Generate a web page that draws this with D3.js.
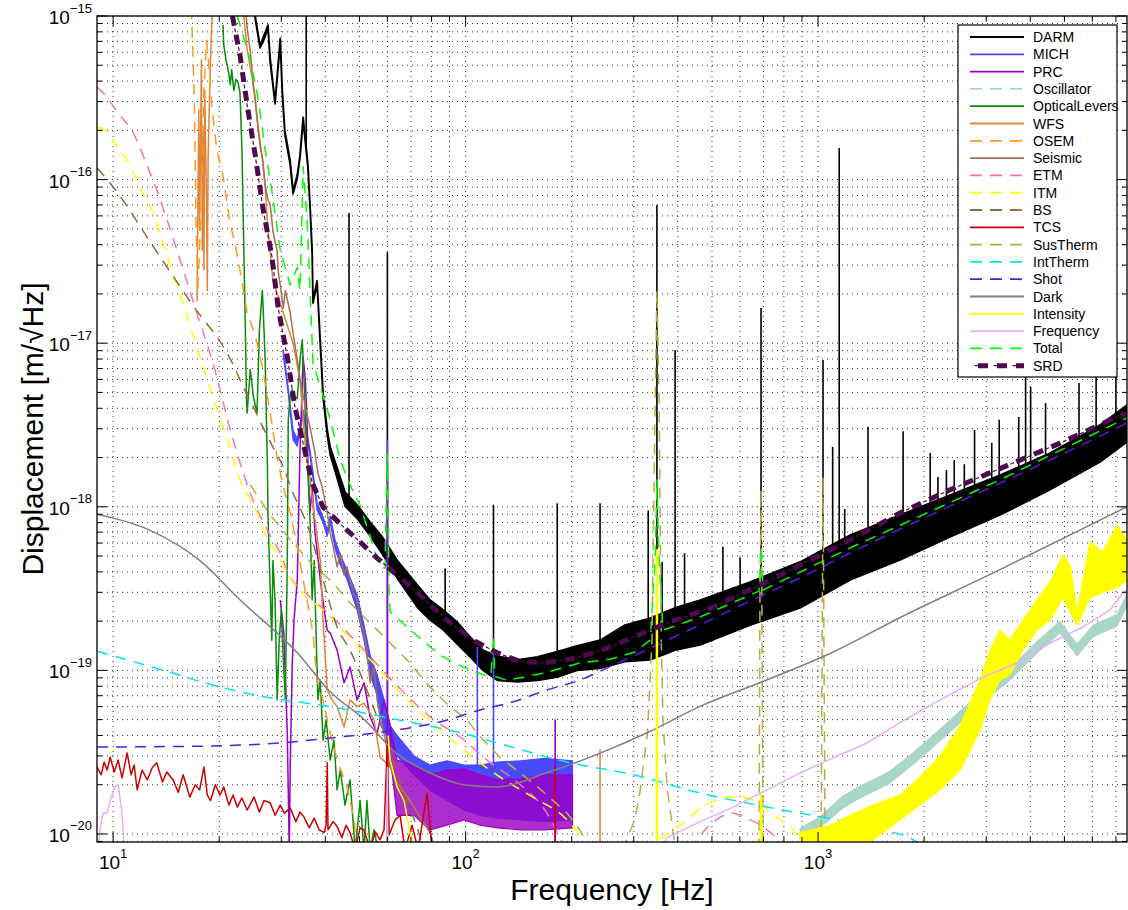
<!DOCTYPE html>
<html><head><meta charset="utf-8">
<script src="https://cdn.jsdelivr.net/npm/d3@7"></script>
<style>
body{margin:0;background:#fff}
svg{display:block}
text{font-family:"Liberation Sans",Arial,Helvetica,sans-serif;fill:#000}
</style></head>
<body><svg id="chart" width="1128" height="910"></svg>
<script>
// ---------------- DATA ----------------
const xDomain = [9, 7525];
const yDomain = [8.93e-21, 1e-15];
const xTickValues = [10, 100, 1000];
const xTickLabels = ["1", "2", "3"];
const yTickValues = [1e-20, 1e-19, 1e-18, 1e-17, 1e-16, 1e-15];
const yTickLabels = ["\u221220", "\u221219", "\u221218", "\u221217", "\u221216", "\u221215"];

const seriesNames = ["DARM","MICH","PRC","Oscillator","OpticalLevers","WFS","OSEM","Seismic","ETM","ITM","BS","TCS","SusTherm","IntTherm","Shot","Dark","Intensity","Frequency","Total","SRD"];

// DARM noisy band: [freq, low, high]
const darmBand = [[24.5,2.0e-15,2.1e-15],[25.3,9.6e-16,1.0e-15],[26.1,6.4e-16,6.6e-16],[26.6,6.9e-16,7.3e-16],[27.5,8.4e-16,8.8e-16],[27.9,5.2e-16,5.5e-16],[28.8,2.9e-16,3.0e-16],[29.8,6.9e-16,7.3e-16],[30.2,3.3e-16,3.5e-16],[30.7,1.9e-16,2.0e-16],[31.8,1.23e-16,1.3e-16],[32.4,8.2e-17,8.5e-17],[33.3,1.02e-16,1.07e-16],[33.9,1.36e-16,1.41e-16],[34.6,2.3e-16,2.4e-16],[35.7,1.18e-16,1.23e-16],[36.2,6.7e-17,7.0e-17],[36.7,3.5e-17,3.7e-17],[36.9,1.76e-17,1.84e-17],[37.9,2.3e-17,2.4e-17],[39.4,4.7e-18,5.0e-18],[40.5,2.75e-18,2.95e-18],[41.3,2.07e-18,2.32e-18],[43.2,1.5e-18,1.73e-18],[45.5,1.01e-18,1.23e-18],[49.2,8.5e-19,1.03e-18],[53.6,6.63e-19,8.07e-19],[58.3,5.07e-19,6.45e-19],[63.9,3.67e-19,4.73e-19],[72.9,2.44e-19,3.33e-19],[79.3,2.03e-19,2.69e-19],[86.4,1.77e-19,2.34e-19],[94.6,1.45e-19,1.98e-19],[103,1.21e-19,1.60e-19],[112,1.0e-19,1.33e-19],[123,8.7e-20,1.22e-19],[140,8.5e-20,1.16e-19],[160,8.7e-20,1.21e-19],[182,9.1e-20,1.30e-19],[207,1.0e-19,1.41e-19],[241,1.03e-19,1.53e-19],[283,1.13e-19,1.89e-19],[334,1.16e-19,2.09e-19],[393,1.33e-19,2.41e-19],[463,1.43e-19,2.69e-19],[641,1.89e-19,3.47e-19],[889,2.41e-19,4.6e-19],[1233,3.57e-19,6.72e-19],[1709,4.73e-19,8.91e-19],[2369,6.54e-19,1.18e-18],[3284,8.91e-19,1.56e-18],[4552,1.27e-18,2.13e-18],[6310,1.88e-18,3.16e-18],[7525,2.49e-18,4.19e-18]];
// DARM lines: [freq, peak]
const darmSpikes = [[35.3,2.0e-15],[46.7,6.25e-17],[60,3.6e-17],[87.5,4.2e-19],[120,1.03e-18],[182,1.05e-18],[240.7,1.05e-18],[329.7,9.5e-19],[349,7.0e-17],[361,4.6e-19],[393,9.1e-18],[418,5.2e-19],[537,5.7e-19],[601,4.9e-19],[689,1.64e-17],[1033,7.9e-18],[1100,2.32e-18],[1148,1.56e-16],[1190,9.7e-19],[1386,3.08e-18],[1743,2.9e-18],[2080,2.13e-18],[2188,1.52e-18],[2313,1.68e-18],[2434,1.93e-18],[2600,1.82e-18],[2780,2.95e-18],[3110,2.46e-18],[3265,3.4e-18],[3710,3.54e-18],[3880,6.9e-18],[4010,5.4e-18],[4420,4.3e-18],[5500,5.71e-18],[6150,7.9e-18],[7000,9.75e-18]];

const michBand = [[30.4,8.35e-18,9.1e-18],[31.4,4.9e-18,5.3e-18],[32.4,2.56e-18,2.95e-18],[33.3,2.35e-18,2.6e-18],[33.9,2.95e-18,3.2e-18],[34.6,3.6e-18,3.9e-18],[36.2,2.04e-18,2.22e-18],[37.9,9.6e-19,1.06e-18],[39.4,8.0e-19,8.7e-19],[40.5,6.6e-19,7.2e-19],[41.3,8.0e-19,8.8e-19],[42.6,5.6e-19,6.3e-19],[44.1,4.4e-19,5.1e-19],[46.1,3.6e-19,4.1e-19],[49.2,2.34e-19,2.9e-19],[51.5,1.53e-19,1.89e-19],[53.6,9.4e-20,1.24e-19],[56.1,7.1e-20,9.4e-20],[58.7,4.3e-20,6.6e-20],[61.1,3.5e-20,4.6e-20],[63.9,3.0e-20,4.0e-20],[71.4,2.3e-20,3.0e-20],[79.2,1.86e-20,2.64e-20],[88.6,1.6e-20,2.8e-20],[99,1.4e-20,2.64e-20],[110,1.3e-20,2.64e-20],[123,1.25e-20,2.75e-20],[143,1.22e-20,2.8e-20],[168,1.19e-20,2.9e-20],[201,1.22e-20,2.8e-20]];
const michSpikes = [[60,3.0e-20,2.56e-18],[108,2.0e-20,1.39e-19],[120,2.0e-20,1.33e-19]];

const prcLine = [[29.8,2.69e-19],[30.5,1.69e-19],[31.2,4.1e-20],[31.6,8e-21],[31.8,2.57e-20],[32.2,1.05e-19],[32.6,2.03e-19],[33.3,3.57e-19],[33.9,2.22e-18],[34.6,8.2e-18],[35.1,6.0e-18],[35.5,3.4e-18],[35.7,1.75e-18],[36.2,9.2e-19],[36.7,1.32e-18],[37.4,6.9e-19],[38.1,4.9e-19],[38.7,3.57e-19],[39.7,2.34e-19],[40.5,1.76e-19],[41.3,1.69e-19],[43.2,1.33e-19],[45.2,8.4e-20],[47.0,1.05e-19],[49.2,6.6e-20],[51.5,8.4e-20],[53.6,5.2e-20],[56.1,4.1e-20],[58.7,6.6e-20],[61.1,4.6e-20]];
const prcBand = [[61.1,3.0e-20,4.6e-20],[63.9,1.3e-20,2.83e-20],[71.4,1.3e-20,2.64e-20],[79.2,1.06e-20,2.3e-20],[88.6,1.13e-20,2.46e-20],[99,1.22e-20,2.5e-20],[110,1.13e-20,2.3e-20],[123,1.09e-20,2.14e-20],[143,1.06e-20,2.17e-20],[168,1.06e-20,2.3e-20],[201,1.09e-20,2.3e-20]];
const prcSpikes = [[60,8e-21,1.68e-18],[179.5,8e-21,5.0e-20]];

const oscillatorBand = [[889,9.0e-21,1.08e-20],[1013,1.09e-20,1.28e-20],[1177,1.44e-20,1.71e-20],[1316,1.66e-20,1.97e-20],[1470,1.86e-20,2.2e-20],[1601,2.05e-20,2.43e-20],[1824,2.57e-20,3.04e-20],[2079,3.26e-20,3.86e-20],[2368,4.2e-20,4.97e-20],[2700,5.4e-20,6.4e-20],[3076,6.96e-20,8.25e-20],[3437,8.4e-20,9.9e-20],[4180,1.27e-19,1.5e-19],[4857,1.69e-19,2.0e-19],[5430,1.22e-19,1.45e-19],[6025,1.6e-19,1.89e-19],[7050,1.86e-19,2.2e-19],[7520,2.47e-19,2.93e-19]];

const opticalLevers = [[20.5,8.8e-16],[20.6,6.65e-16],[20.9,5.4e-16],[21.2,4.7e-16],[21.5,3.8e-16],[21.7,4.7e-16],[22.0,3.5e-16],[22.3,4.1e-16],[22.6,3.95e-16],[22.9,3.4e-16],[23.2,1.52e-16],[23.4,5.7e-17],[23.7,1.39e-17],[23.9,4.5e-18],[24.0,3.74e-18],[24.5,6.9e-18],[25.0,4.7e-18],[25.6,3.74e-18],[26.0,1.2e-17],[26.5,2.1e-17],[26.6,1.8e-17],[27.0,7.9e-18],[27.4,1.75e-18],[27.5,9.2e-19],[27.9,3.1e-19],[28.2,1.53e-19],[28.4,4.7e-19],[28.8,2.69e-19],[29.2,6.6e-20],[29.6,1.53e-19],[30.0,2.34e-19],[30.4,1.16e-19],[30.8,6.6e-20],[31.2,4.7e-19],[31.4,3.4e-18],[31.8,4.8e-18],[32.2,5.2e-18],[32.8,4.7e-18],[33.3,4.6e-18],[33.9,7.9e-18],[34.4,1.05e-17],[34.8,6.0e-18],[35.3,2.56e-18],[35.7,1.68e-18],[36.2,8.3e-19],[36.7,2.69e-19],[37.2,4.7e-19],[37.7,1.53e-19],[38.1,6.6e-20],[38.7,8.7e-20],[39.4,3.75e-20],[40.2,5.0e-20],[41.3,2.83e-20],[42.3,3.75e-20],[43.2,1.86e-20],[44.1,2.46e-20],[45.5,1.5e-20],[47.0,2.14e-20],[48.6,8e-21],[50.2,1.6e-20],[51.5,8e-21],[52.5,1.6e-20],[53.6,8e-21],[55.0,1.06e-20],[56.4,8e-21]];

const wfs = [[17.3,1.8e-17],[17.5,2.66e-16],[17.6,4.9e-17],[17.8,5.4e-16],[17.9,3.7e-17],[18.0,2.0e-16],[18.1,2.8e-17],[18.2,3.5e-16],[18.4,7.5e-17],[18.5,2.1e-17],[18.6,1.32e-16],[18.7,2.3e-16],[18.9,5.4e-16],[19.1,1.09e-15],[20.1,2.5e-15],[22.2,2.5e-15],[23.4,1.09e-15],[24.0,6.2e-16],[24.8,4.2e-16],[25.3,3.0e-16],[25.8,2.07e-16],[26.5,1.35e-16],[27.0,8.9e-17],[27.5,4.9e-17],[28.4,2.43e-17],[30.4,1.53e-17],[32.4,1.0e-17],[33.9,6.0e-18],[35.1,2.35e-18],[36.2,1.46e-18],[37.4,8.3e-19],[38.7,4.7e-19],[39.4,2.03e-19],[40.5,7.6e-20],[41.8,6.6e-20],[43.2,6.0e-20],[45.2,4.5e-20],[47.0,6.6e-20],[49.2,6.0e-20],[51.5,6.3e-20],[55.0,5.0e-20],[57.2,2.95e-20],[61.1,2.57e-20],[63.9,2.05e-20],[69.5,1.6e-20],[74.3,1.27e-20],[79.3,1.02e-20],[81.9,8e-21]];
const wfsSpikes = [[240.7,8e-21,3.3e-20]];

const osem = [[16.5,2.5e-15],[16.7,1.0e-15],[17.0,3.06e-16],[17.2,4.9e-17],[17.4,2.1e-17],[17.8,7.5e-17],[18.1,3.5e-16],[18.4,7.1e-16],[18.6,5.8e-16],[18.9,3.5e-16],[19.1,2.66e-16],[19.7,1.5e-16],[20.4,1.12e-16],[20.8,8.5e-17],[21.5,5.3e-17],[22.2,4.0e-17],[22.9,2.8e-17],[24.0,1.53e-17],[25.3,1.12e-17],[26.6,6.9e-18],[27.9,3.74e-18],[29.2,2.0e-18],[30.4,1.32e-18],[31.8,9.2e-19],[33.3,5.7e-19],[34.6,3.57e-19],[35.5,2.69e-19],[36.9,1.69e-19],[37.9,8.7e-20],[39.4,6.6e-20],[41.3,4.1e-20],[43.2,2.83e-20],[46.1,1.94e-20],[48.3,1.22e-20],[49.2,8e-21]];

const seismic = [[23.4,1.66e-15],[24.0,8.45e-16],[24.5,6.1e-16],[25.0,3.8e-16],[25.3,3.15e-16],[25.6,2.38e-16],[26.1,1.63e-16],[26.6,1.3e-16],[27.0,9.3e-17],[27.4,7.7e-17],[27.9,7.0e-17],[28.4,4.85e-17],[29.2,3.66e-17],[29.4,2.76e-17],[29.8,2.27e-17],[30.4,1.64e-17],[30.8,2.1e-17],[31.8,1.53e-17],[32.4,1.15e-17],[33.3,7.9e-18],[33.9,6.0e-18],[35.1,4.07e-18],[36.2,3.07e-18],[37.4,2.13e-18],[38.1,1.61e-18],[39.2,1.32e-18],[40.5,9.2e-19],[41.3,6.9e-19],[42.1,5.7e-19],[43.2,4.3e-19],[44.1,5.2e-19],[45.2,3.83e-19],[46.1,4.3e-19],[47.0,3.57e-19],[48.3,2.9e-19],[49.2,2.69e-19],[50.2,2.03e-19],[51.5,1.69e-19],[52.5,1.33e-19],[53.6,8.4e-20],[55.0,1.05e-19],[56.1,6.6e-20],[57.2,5.2e-20],[58.7,4.1e-20],[60.0,3.26e-20],[61.1,2.57e-20],[63.9,2.05e-20],[67.3,1.73e-20],[71.4,1.46e-20],[75.2,1.22e-20],[79.3,1.02e-20],[81.9,8e-21]];

const etm = [[9.0,3.68e-16],[9.55,3.24e-16],[10.33,2.55e-16],[11.4,1.93e-16],[12.6,1.16e-16],[13.2,9.0e-17],[15.0,4.0e-17],[17.1,1.64e-17],[19.5,6.7e-18],[21.5,2.95e-18],[23.4,1.61e-18],[24.5,1.21e-18],[27.4,7.2e-19],[29.8,5.2e-19],[31.4,3.94e-19],[36.2,2.81e-19],[41.3,2.18e-19],[51.5,1.33e-19],[66.9,7.3e-20],[79.3,5.2e-20],[99,3.75e-20],[115,2.83e-20],[143,2.0e-20],[168,1.4e-20],[192,8e-21],null,[433,8e-21],[478,1.06e-20],[574,1.34e-20],[641,1.22e-20],[717,1.06e-20],[765,9.2e-21],[790,8e-21]];
const itm = [[9.0,2.1e-16],[9.49,2.0e-16],[10.26,1.6e-16],[11.2,1.21e-16],[12.0,8.6e-17],[12.5,7.5e-17],[14.5,3.0e-17],[16.5,1.29e-17],[18.9,5.2e-18],[21.9,2.0e-18],[22.9,1.46e-18],[24.5,1.1e-18],[25.6,9.2e-19],[27.4,6.3e-19],[29.2,5.2e-19],[31.2,3.94e-19],[41.3,2.12e-19],[51.5,1.28e-19],[66.9,6.9e-20],[83.0,4.5e-20],[110,2.72e-20],[125,2.23e-20],[155,1.68e-20],[194,1.22e-20],[225,8e-21],null,[323,8e-21],[414,1.17e-20],[494,1.55e-20],[563,1.68e-20],[629,1.66e-20],[698,1.46e-20],[780,1.22e-20],[850,1.06e-20],[906,8e-21]];
const bs = [[9.0,1.18e-16],[10.26,8.4e-17],[12.7,4.2e-17],[16.5,1.81e-17],[21.9,7.4e-18],[23.4,5.4e-18],[25.0,4.07e-18],[26.6,3.07e-18],[28.4,2.32e-18],[30.4,1.75e-18],[32.4,1.21e-18],[34.4,9.2e-19],[36.2,6.9e-19],[38.1,4.73e-19],[40.5,2.9e-19],[43.2,1.84e-19],[47.0,1.33e-19],[51.5,8.4e-20],[56.1,5.2e-20],[60.0,3.75e-20],[63.9,2.36e-20],[68.2,1.6e-20],[72.8,1.1e-20],[76.2,8e-21]];

const tcs = [[9.0,2.57e-20],[9.25,2.3e-20],[9.43,2.75e-20],[9.61,2.46e-20],[9.81,2.95e-20],[10.07,2.39e-20],[10.33,2.83e-20],[10.6,2.2e-20],[10.96,3.13e-20],[11.25,2.3e-20],[11.47,2.64e-20],[11.7,1.86e-20],[12.08,2.46e-20],[12.5,2.14e-20],[12.9,2.53e-20],[13.3,2.72e-20],[13.8,2.08e-20],[14.2,2.39e-20],[14.8,2.14e-20],[15.3,1.8e-20],[15.8,2.3e-20],[16.5,1.68e-20],[17.1,2.0e-20],[17.6,1.86e-20],[18.1,2.57e-20],[18.5,1.73e-20],[18.9,1.6e-20],[19.5,2.0e-20],[20.1,1.73e-20],[20.6,1.94e-20],[21.3,1.5e-20],[21.9,1.73e-20],[22.5,1.46e-20],[23.2,1.66e-20],[24.0,1.4e-20],[25.1,1.68e-20],[26.0,1.36e-20],[26.8,1.6e-20],[27.9,1.55e-20],[28.8,1.3e-20],[29.8,1.5e-20],[30.6,1.34e-20],[31.8,1.44e-20],[33.0,1.19e-20],[33.9,1.36e-20],[34.8,1.27e-20],[36.0,1.09e-20],[37.2,1.25e-20],[38.4,1.06e-20],[39.7,1.02e-20],[40.2,1.13e-20],[40.5,2.72e-20],[40.7,1.06e-20],[42.1,1.19e-20],[43.2,1.11e-20],[44.6,9.5e-21],[45.8,1.13e-20],[47.0,1.02e-20],[48.6,8e-21],[50.2,1.09e-20],[51.5,1.06e-20],[53.6,8e-21],[55.4,1.03e-20],[57.2,9.2e-21],[58.7,1.06e-20],[60.0,3.75e-20],[60.7,9.9e-21],[63.1,1.22e-20],[65.2,1.3e-20],[67.3,8e-21],[70.5,1.13e-20],[73.3,8e-21],[77.8,1.78e-20],[80.3,8e-21]];
const tcsSpikes = [[179.5,8e-21,2.6e-20]];

const susTherm = [[24.5,1.36e-18],[27.9,8.9e-19],[31.8,6.3e-19],[36.2,4.6e-19],[42.1,3.42e-19],[47.0,2.58e-19],[53.6,1.95e-19],[61.1,1.47e-19],[69.5,1.11e-19],[79.3,7.9e-20],[90.3,6.0e-20],[101,5.0e-20],[108,4.1e-20],[125,2.95e-20],[143,2.36e-20],[160,1.94e-20],[177,1.6e-20],[194,1.34e-20],[211,1.06e-20],[225,8e-21],null,[278,8e-21],[302,1.22e-20],[312,1.78e-20],[328,4.1e-20],[338,1.53e-19],[345,4.5e-18],[349,2.1e-17],[354,4.5e-18],[359,1.53e-19],[363,5.0e-20],[373,1.94e-20],[388,1.02e-20],[395,8e-21],null,[680,8e-21],[684,2.69e-19],[689,1.27e-18],[693,2.69e-19],[698,8e-21],null,[1020,8e-21],[1033,1.52e-18],[1047,8e-21]];

const intTherm = [[9.0,1.31e-19],[13.9,1.0e-19],[19.3,8.1e-20],[26.8,6.9e-20],[41.3,6.0e-20],[63.9,5.0e-20],[99,4.1e-20],[123,3.6e-20],[194,2.75e-20],[299,2.3e-20],[463,1.78e-20],[717,1.46e-20],[1103,1.23e-20],[1529,1.06e-20],[1909,8.9e-21],[2000,8e-21]];

const shot = [[9.0,3.40e-20],[17.6,3.44e-20],[29.7,3.6e-20],[41.3,3.86e-20],[63.8,4.32e-20],[84.6,4.84e-20],[110,5.73e-20],[136,6.41e-20],[170,7.59e-20],[211,8.73e-20],[256,1.05e-19],[354,1.45e-19],[461,1.89e-19],[640,2.65e-19],[887,3.67e-19],[1233,5.22e-19],[2367,1.01e-18],[4545,1.93e-18],[7525,3.25e-18]];

const dark = [[9,9.0e-19],[12.7,7.2e-19],[17.6,4.7e-19],[22.9,2.7e-19],[33.3,1.28e-19],[41.3,7.4e-20],[51.6,5.0e-20],[63.8,3.1e-20],[79.3,2.36e-20],[98.7,2.0e-20],[122,1.94e-20],[173,2.4e-20],[239,3.1e-20],[331,4.2e-20],[461,6.0e-20],[712,8.7e-20],[1100,1.29e-19],[1700,2.09e-19],[3260,4.1e-19],[7525,1.0e-18]];

const intensityBand = [[889,8e-21,1.02e-20],[1081,8e-21,1.13e-20],[1232,8e-21,1.3e-20],[1432,9.2e-21,1.5e-20],[1709,1.22e-20,1.73e-20],[1909,1.46e-20,2.14e-20],[2218,1.86e-20,3.0e-20],[2530,2.46e-20,4.6e-20],[2880,4.3e-20,8.7e-20],[3076,6.6e-20,1.33e-19],[3280,8.7e-20,1.76e-19],[3500,9.4e-20,1.53e-19],[3814,1.33e-19,2.03e-19],[4180,1.76e-19,2.69e-19],[4550,2.03e-19,3.47e-19],[4953,2.77e-19,5.07e-19],[5190,2.28e-19,4.4e-19],[5430,1.89e-19,2.28e-19],[5910,2.77e-19,6.1e-19],[6430,3.0e-19,5.3e-19],[7050,3.2e-19,7.7e-19],[7520,3.57e-19,6.3e-19]];
const intensityLine = [[60.3,4.0e-20],[61.1,2.83e-20],[63.9,1.94e-20],[66.9,1.6e-20],[69.5,1.02e-20],[71.4,8e-21]];
const intensitySpikes = [[349,8e-21,5.5e-19],[689,8e-21,1.8e-20]];

const frequency = [[9.07,8e-21],[9.19,1.09e-20],[9.37,1.34e-20],[9.61,1.34e-20],[9.81,1.6e-20],[10.13,1.94e-20],[10.33,2.0e-20],[10.6,1.34e-20],[10.75,8e-21],null,[356,8e-21],[373,9.5e-21],[463,1.19e-20],[574,1.46e-20],[717,1.86e-20],[889,2.36e-20],[1103,2.92e-20],[1377,3.6e-20],[1709,4.8e-20],[2218,6.6e-20],[2937,9.1e-20],[3668,1.11e-19],[4550,1.47e-19],[5644,1.84e-19],[6730,2.34e-19],[7330,2.97e-19],[7525,3.1e-19]];
const frequencySpikes = [[60,8e-21,2.57e-20]];

const total = [[22.5,1.0e-15],[24.5,5.4e-16],[25.8,3.1e-16],[27.0,1.52e-16],[28.2,8.6e-17],[29.8,3.7e-17],[31.8,2.27e-17],[33.3,2.9e-17],[33.9,2.1e-17],[34.6,1.2e-16],[35.5,5.7e-17],[36.9,7.6e-18],[38.7,5.4e-18],[41.3,3.4e-18],[44.1,1.93e-18],[47.0,1.36e-18],[50.2,1.02e-18],[54.6,5.8e-19],[57.2,4.3e-19],[59.1,4.2e-19],[59.9,2.1e-18],[60.7,2.9e-19],[61.1,2.28e-19],[70.9,1.71e-19],[84.6,1.24e-19],[98.3,1.05e-19],[112,9.4e-20],[118,9.2e-20],[120,1.6e-19],[121,9.2e-20],[131,8.7e-20],[166,9.6e-20],[211,1.11e-19],[257,1.17e-19],[301,1.29e-19],[334,1.53e-19],[345,4.7e-19],[349,1.46e-18],[354,4.7e-19],[363,1.76e-19],[462,2.12e-19],[680,3.05e-19],[689,5.7e-19],[698,3.1e-19],[1232,5.6e-19],[3280,1.46e-18],[7525,3.5e-18]];

const srd = [[21.8,1.0e-15],[22.9,5.78e-16],[24.0,2.86e-16],[25.3,1.41e-16],[26.6,6.7e-17],[28.2,3.41e-17],[29.4,1.64e-17],[31.2,8.23e-18],[32.8,4.07e-18],[35.3,2.02e-18],[36.7,1.40e-18],[39.4,9.97e-19],[44.1,7.85e-19],[50.2,6.09e-19],[56.1,4.86e-19],[63.9,3.83e-19],[72.9,3.01e-19],[80.9,2.41e-19],[92.2,1.89e-19],[105,1.53e-19],[123,1.28e-19],[143,1.13e-19],[166,1.11e-19],[198,1.17e-19],[230,1.28e-19],[257,1.39e-19],[373,1.95e-19],[504,2.44e-19],[685,3.33e-19],[1233,6.27e-19],[1709,9.16e-19],[2369,1.27e-18],[3573,1.85e-18],[4860,2.45e-18],[6735,3.39e-18],[7525,3.74e-18]];

// ---------------- STYLES ----------------
const colors = {DARM:"#000000",MICH:"#4a4aff",PRC:"#9a00c4",Oscillator:"#a9d6c9",OpticalLevers:"#0a8c0a",WFS:"#e0863c",OSEM:"#ff9a1c",Seismic:"#a5704f",ETM:"#ff6eb4",ITM:"#ffff00",BS:"#8c6d3c",TCS:"#cc0000",SusTherm:"#b7ad42",IntTherm:"#00e5ee",Shot:"#5a1adc",Dark:"#808080",Intensity:"#ffff00",Frequency:"#e6b0f5",Total:"#00ff00",SRD:"#4d0a4d"};
const dashed = {Oscillator:true,OSEM:true,ETM:true,ITM:true,BS:true,SusTherm:true,IntTherm:true,Shot:true,Total:true};

// ---------------- CHART ----------------
const L=97, T=16, R=1127, B=842;
const svg = d3.select("#chart");
const x = d3.scaleLog().domain(xDomain).range([L,R]);
const y = d3.scaleLog().domain(yDomain).range([B,T]);

const defs = svg.append("defs");
defs.append("clipPath").attr("id","clip")
  .append("rect").attr("x",L).attr("y",T).attr("width",R-L).attr("height",B-T);

// grid
const grid = svg.append("g");
const xGrid=[], yGrid=[];
[1,10,100,1000].forEach(d=>{for(let k=1;k<10;k++){const v=d*k; if(v>xDomain[0]*1.001 && v<xDomain[1]) xGrid.push({v,major:k===1});}});
[-21,-20,-19,-18,-17,-16,-15].forEach(e=>{for(let k=1;k<10;k++){const v=k*Math.pow(10,e); if(v>yDomain[0]*1.001 && v<=yDomain[1]*1.0001) yGrid.push({v,major:k===1});}});
xGrid.forEach(g=>grid.append("line").attr("x1",x(g.v)).attr("x2",x(g.v)).attr("y1",T).attr("y2",B)
  .attr("stroke","#333").attr("stroke-width",1).attr("stroke-dasharray","1,4"));
yGrid.forEach(g=>grid.append("line").attr("y1",y(g.v)).attr("y2",y(g.v)).attr("x1",L).attr("x2",R)
  .attr("stroke","#333").attr("stroke-width",1).attr("stroke-dasharray","1,4"));

const plot = svg.append("g").attr("clip-path","url(#clip)");
const lineGen = d3.line().defined(d=>d!==null).x(d=>x(d[0])).y(d=>y(d[1]));
const smoothGen = d3.line().defined(d=>d!==null).x(d=>x(d[0])).y(d=>y(d[1])).curve(d3.curveMonotoneX);
const areaGen = d3.area().x(d=>x(d[0])).y0(d=>y(d[1])).y1(d=>y(d[2]));

function drawBand(data,color,sw,op){
  plot.append("path").datum(data).attr("d",areaGen).attr("fill",color).attr("fill-opacity",op||1)
    .attr("stroke",color).attr("stroke-width",sw||1).attr("stroke-linejoin","round");
}
function drawLine(data,color,opt){
  opt=opt||{};
  plot.append("path").attr("d",(opt.smooth?smoothGen:lineGen)(data)).attr("fill","none")
    .attr("stroke",color).attr("stroke-width",opt.w||1.5).attr("stroke-linejoin","round")
    .attr("stroke-dasharray",opt.dash?"11,8":null);
}
function drawSpikes(data,color,sw){
  data.forEach(d=>plot.append("line").attr("x1",x(d[0])).attr("x2",x(d[0]))
    .attr("y1",y(d[1])).attr("y2",y(d[2])).attr("stroke",color).attr("stroke-width",sw||1.5));
}
function interpHigh(arr,f){
  for(let i=0;i<arr.length-1;i++){
    if(f>=arr[i][0] && f<=arr[i+1][0]){
      const t=(Math.log(f)-Math.log(arr[i][0]))/(Math.log(arr[i+1][0])-Math.log(arr[i][0]));
      return Math.exp(Math.log(arr[i][2])+t*(Math.log(arr[i+1][2])-Math.log(arr[i][2])));
    }
  }
  return arr[arr.length-1][2];
}

// draw order follows legend order
drawBand(darmBand,colors.DARM,1.8);
drawSpikes(darmSpikes.map(d=>[d[0],interpHigh(darmBand,d[0]),d[1]]),colors.DARM,1.6);
drawBand(michBand,colors.MICH,1.2);
drawSpikes(michSpikes,colors.MICH,1.6);
drawLine(prcLine,colors.PRC);
drawBand(prcBand,colors.PRC,1.2,0.82);
drawSpikes(prcSpikes,colors.PRC,1.6);
drawBand(oscillatorBand,colors.Oscillator,1);
drawLine(opticalLevers,colors.OpticalLevers);
drawLine(wfs,colors.WFS);
drawSpikes(wfsSpikes,colors.WFS,1.6);
drawLine(osem,colors.OSEM,{dash:true});
drawLine(seismic,colors.Seismic);
drawLine(etm,colors.ETM,{dash:true,smooth:true});
drawLine(itm,colors.ITM,{dash:true,smooth:true});
drawLine(bs,colors.BS,{dash:true,smooth:true});
drawLine(tcs,colors.TCS);
drawSpikes(tcsSpikes,colors.TCS,1.6);
drawLine(susTherm,colors.SusTherm,{dash:true});
drawLine(intTherm,colors.IntTherm,{dash:true,smooth:true});
drawLine(shot,colors.Shot,{dash:true,smooth:true});
drawLine(dark,colors.Dark,{smooth:true});
drawBand(intensityBand,colors.Intensity,1.2);
drawLine(intensityLine,colors.Intensity);
drawSpikes(intensitySpikes,colors.Intensity,2.5);
drawLine(frequency,colors.Frequency);
drawSpikes(frequencySpikes,colors.Frequency,1.6);
drawLine(total,colors.Total,{dash:true});
// SRD: thick dashes with thin dots between
plot.append("path").attr("d",lineGen(srd)).attr("fill","none").attr("stroke",colors.SRD)
  .attr("stroke-width",5).attr("stroke-dasharray","10,9");
plot.append("path").attr("d",lineGen(srd)).attr("fill","none").attr("stroke",colors.SRD)
  .attr("stroke-width",1.2).attr("stroke-dasharray","4,15").attr("stroke-dashoffset",-12.5);

// frame and ticks
const axes = svg.append("g");
axes.append("rect").attr("x",L).attr("y",T).attr("width",R-L).attr("height",B-T)
  .attr("fill","none").attr("stroke","#000").attr("stroke-width",1.3);
xGrid.forEach(g=>{const len=g.major?10:5, px=x(g.v);
  axes.append("line").attr("x1",px).attr("x2",px).attr("y1",B).attr("y2",B-len).attr("stroke","#000");
  axes.append("line").attr("x1",px).attr("x2",px).attr("y1",T).attr("y2",T+len).attr("stroke","#000");});
yGrid.forEach(g=>{const len=g.major?10:5, py=y(g.v);
  axes.append("line").attr("y1",py).attr("y2",py).attr("x1",L).attr("x2",L+len).attr("stroke","#000");
  axes.append("line").attr("y1",py).attr("y2",py).attr("x1",R).attr("x2",R-len).attr("stroke","#000");});

xTickValues.forEach((v,i)=>{
  const t=axes.append("text").attr("x",x(v)).attr("y",B+27).attr("text-anchor","middle").style("font-size","19px");
  t.append("tspan").text("10");
  t.append("tspan").attr("dy",-11).style("font-size","13px").text(xTickLabels[i]);
});
yTickValues.forEach((v,i)=>{
  const t=axes.append("text").attr("x",L-5).attr("y",y(v)+8).attr("text-anchor","end").style("font-size","19px");
  t.append("tspan").text("10");
  t.append("tspan").attr("dy",-11.5).style("font-size","13px").text(yTickLabels[i]);
});

axes.append("text").attr("x",(L+R)/2).attr("y",900).attr("text-anchor","middle")
  .style("font-size","30px").text("Frequency [Hz]");
axes.append("text").attr("transform",`translate(43,${(T+B)/2}) rotate(-90)`).attr("text-anchor","middle")
  .style("font-size","30px").text("Displacement [m/\u221AHz]");

// legend
const lg = svg.append("g");
lg.append("rect").attr("x",958).attr("y",25).attr("width",159).attr("height",352)
  .attr("fill","#fff").attr("stroke","#000").attr("stroke-width",1.2);
seriesNames.forEach((name,i)=>{
  const yy = 37 + i*17.3;
  if(name==="SRD"){
    lg.append("line").attr("x1",970).attr("x2",1024).attr("y1",yy).attr("y2",yy)
      .attr("stroke",colors.SRD).attr("stroke-width",5).attr("stroke-dasharray","10,9").attr("stroke-dashoffset",-8);
    lg.append("line").attr("x1",970).attr("x2",1024).attr("y1",yy).attr("y2",yy)
      .attr("stroke",colors.SRD).attr("stroke-width",1.2).attr("stroke-dasharray","4,15").attr("stroke-dashoffset",-4.5);
  } else {
    lg.append("line").attr("x1",970).attr("x2",1024).attr("y1",yy).attr("y2",yy)
      .attr("stroke",colors[name]).attr("stroke-width",1.8).attr("stroke-dasharray",dashed[name]?"12,8":null);
  }
  lg.append("text").attr("x",1033).attr("y",yy+5).style("font-size","14px").text(name);
});
</script>
</body></html>
